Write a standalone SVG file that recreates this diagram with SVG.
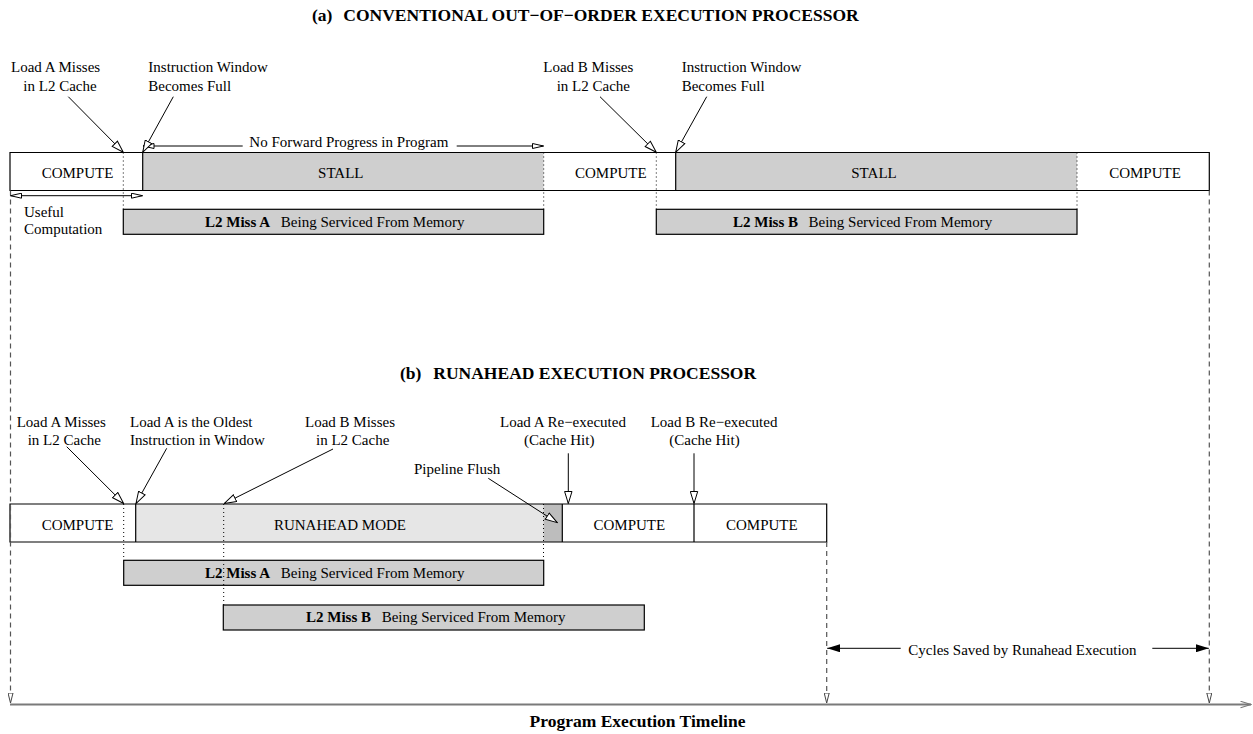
<svg xmlns="http://www.w3.org/2000/svg" width="1253" height="734" viewBox="0 0 1253 734">
<style>
.t{font-family:"Liberation Serif","Times New Roman",serif;font-size:15px;fill:#000}
.b{font-weight:bold}
.ttl{font-family:"Liberation Serif","Times New Roman",serif;font-size:17.5px;font-weight:bold;fill:#000}
.m{text-anchor:middle}
.w{fill:#fff}
.g{fill:#cfcfcf}
.lg{fill:#e6e6e6}
.dg{fill:#bdbdbd}
.border{fill:none;stroke:#000;stroke-width:1.2}
.miss{fill:#cfcfcf;stroke:#000;stroke-width:1.2}
.dot{fill:none;stroke:#000;stroke-width:1;stroke-dasharray:1 3}
.dash{fill:none;stroke:#555;stroke-width:1.2;stroke-dasharray:5 4}
.arr{fill:none;stroke:#000;stroke-width:1}
.tl{fill:none;stroke:#7a7a7a;stroke-width:2}
</style>
<defs>
<marker id="open" viewBox="0 0 13 9" refX="12.5" refY="4.5" markerWidth="13" markerHeight="9" orient="auto" markerUnits="userSpaceOnUse"><path d="M0.5,0.8 L12.5,4.5 L0.5,8.2 Z" fill="#fff" stroke="#000" stroke-width="1"/></marker>
<marker id="thin" viewBox="0 0 12 6" refX="11.5" refY="3" markerWidth="12" markerHeight="6" orient="auto-start-reverse" markerUnits="userSpaceOnUse"><path d="M0.5,0.5 L11.5,3 L0.5,5.5 Z" fill="#fff" stroke="#000" stroke-width="1"/></marker>
<marker id="fill" viewBox="0 0 13 8" refX="13" refY="4" markerWidth="13" markerHeight="8" orient="auto" markerUnits="userSpaceOnUse"><path d="M0,0 L13,4 L0,8 Z" fill="#000"/></marker>
<marker id="dv" viewBox="0 0 11 6" refX="10.5" refY="3" markerWidth="11" markerHeight="6" orient="auto" markerUnits="userSpaceOnUse"><path d="M0.5,0.5 L10.5,3 L0.5,5.5 Z" fill="#fff" stroke="#444" stroke-width="1"/></marker>
<marker id="tla" viewBox="0 0 12 8" refX="11" refY="4" markerWidth="12" markerHeight="8" orient="auto" markerUnits="userSpaceOnUse"><path d="M0.5,0.8 L11,4 L0.5,7.2" fill="none" stroke="#7a7a7a" stroke-width="1.2"/></marker>
</defs>
<rect width="1253" height="734" fill="#fff"/>

<!-- (a) -->
<g id="title-a"><text class="ttl" y="21"><tspan x="312">(a)</tspan><tspan x="343.3">CONVENTIONAL OUT−OF−ORDER EXECUTION PROCESSOR</tspan></text></g>

<g id="a-bar">
<g id="a-compute-1"><rect class="w" x="10" y="152.5" width="132.7" height="38"/><text class="t m" x="77.5" y="178.3">COMPUTE</text></g>
<g id="a-stall-1"><rect class="g" x="142.7" y="152.5" width="401" height="38"/><text class="t m" x="340.8" y="178.3">STALL</text></g>
<g id="a-compute-2"><rect class="w" x="543.7" y="152.5" width="132" height="38"/><text class="t m" x="610.8" y="178.3">COMPUTE</text></g>
<g id="a-stall-2"><rect class="g" x="675.7" y="152.5" width="401.3" height="38"/><text class="t m" x="874" y="178.3">STALL</text></g>
<g id="a-compute-3"><rect class="w" x="1077" y="152.5" width="132.3" height="38"/><text class="t m" x="1145" y="178.3">COMPUTE</text></g>
<path class="border" d="M10,152.5 H1209.3 V190.5 H10 Z M142.7,152.5 V190.5 M675.7,152.5 V190.5"/>
</g>

<g id="a-miss-a"><rect class="miss" x="123.3" y="209.3" width="420.4" height="25"/><text class="t" y="226.7"><tspan class="b" x="205">L2 Miss A</tspan><tspan x="280.8">Being Serviced From Memory</tspan></text></g>
<g id="a-miss-b"><rect class="miss" x="656.3" y="209.3" width="420.7" height="25"/><text class="t" y="226.7"><tspan class="b" x="733">L2 Miss B</tspan><tspan x="808.5">Being Serviced From Memory</tspan></text></g>

<g id="a-label-loada"><text class="t" x="11" y="72">Load A Misses</text><text class="t" x="23.3" y="90.5">in L2 Cache</text></g>
<g id="a-label-full1"><text class="t" x="148.3" y="72">Instruction Window</text><text class="t" x="148.3" y="90.5">Becomes Full</text></g>
<g id="a-label-loadb"><text class="t" x="543.3" y="72">Load B Misses</text><text class="t" x="556.7" y="90.5">in L2 Cache</text></g>
<g id="a-label-full2"><text class="t" x="681.7" y="72">Instruction Window</text><text class="t" x="681.7" y="90.5">Becomes Full</text></g>
<g id="a-label-noprogress"><text class="t" x="249.3" y="147">No Forward Progress in Program</text></g>
<g id="a-label-useful"><text class="t" x="24" y="216.5">Useful</text><text class="t" x="24" y="234">Computation</text></g>

<!-- (b) -->
<g id="title-b"><text class="ttl" y="379.3"><tspan x="400">(b)</tspan><tspan x="433.3">RUNAHEAD EXECUTION PROCESSOR</tspan></text></g>

<g id="b-bar">
<g id="b-compute-1"><rect class="w" x="10" y="504" width="125.7" height="38"/><text class="t m" x="77.5" y="529.5">COMPUTE</text></g>
<g id="b-runahead"><rect class="lg" x="135.7" y="504" width="407.8" height="38"/><text class="t m" x="340" y="529.5">RUNAHEAD MODE</text></g>
<g id="b-flush"><rect class="dg" x="543.5" y="504" width="18.8" height="38"/></g>
<g id="b-compute-2"><rect class="w" x="562.3" y="504" width="131.7" height="38"/><text class="t m" x="629.3" y="529.5">COMPUTE</text></g>
<g id="b-compute-3"><rect class="w" x="694" y="504" width="132.7" height="38"/><text class="t m" x="761.8" y="529.5">COMPUTE</text></g>
<path class="border" d="M10,504 H826.7 V542 H10 Z M135.7,504 V542 M562.3,504 V542 M694,504 V542"/>
</g>

<g id="b-miss-a"><rect class="miss" x="123.7" y="560.3" width="420" height="25"/><text class="t" y="577.7"><tspan class="b" x="205">L2 Miss A</tspan><tspan x="280.8">Being Serviced From Memory</tspan></text></g>
<g id="b-miss-b"><rect class="miss" x="223.3" y="605" width="421" height="25"/><text class="t" y="622.3"><tspan class="b" x="306">L2 Miss B</tspan><tspan x="381.7">Being Serviced From Memory</tspan></text></g>

<g id="b-label-loada"><text class="t" x="16.7" y="426.5">Load A Misses</text><text class="t" x="27.7" y="444.5">in L2 Cache</text></g>
<g id="b-label-oldest"><text class="t" x="130" y="426.5">Load A is the Oldest</text><text class="t" x="130" y="444.5">Instruction in Window</text></g>
<g id="b-label-loadb"><text class="t" x="305" y="426.5">Load B Misses</text><text class="t" x="316" y="444.5">in L2 Cache</text></g>
<g id="b-label-reexa"><text class="t" x="500" y="426.5">Load A Re−executed</text><text class="t" x="524" y="444.5">(Cache Hit)</text></g>
<g id="b-label-reexb"><text class="t" x="650.7" y="426.5">Load B Re−executed</text><text class="t" x="669.3" y="444.5">(Cache Hit)</text></g>
<g id="b-label-flush"><text class="t" x="414" y="473.5">Pipeline Flush</text></g>
<g id="b-label-cycles"><text class="t" x="908.3" y="654.5">Cycles Saved by Runahead Execution</text></g>

<g id="timeline-label"><text class="ttl m" x="637.5" y="727">Program Execution Timeline</text></g>

<g id="connectors">
<path class="dot" d="M123.3,152.5 V209.3 M543.7,152.5 V209.3 M656.3,152.5 V209.3 M1077,152.5 V209.3"/>
<path class="dot" d="M123.7,504 V560.3 M543.5,504 V560.3 M223.7,504 V605"/>
<path class="dash" d="M10.5,190.5 V703" marker-end="url(#dv)"/>
<path class="dash" d="M1209.3,190.5 V703" marker-end="url(#dv)"/>
<path class="dash" d="M826.7,542 V703" marker-end="url(#dv)"/>
<path class="tl" d="M10,704.5 H1251" marker-end="url(#tla)"/>
<path class="arr" d="M242.7,146 H143" marker-end="url(#thin)"/>
<path class="arr" d="M456.7,146 H543.5" marker-end="url(#thin)"/>
<path class="arr" d="M10.5,195.7 H142.5" marker-start="url(#thin)" marker-end="url(#thin)"/>
<path class="arr" d="M68.3,96.7 L123.3,152.3" marker-end="url(#open)"/>
<path class="arr" d="M173.3,96.7 L142.7,152.3" marker-end="url(#open)"/>
<path class="arr" d="M600,96.7 L656.3,152.3" marker-end="url(#open)"/>
<path class="arr" d="M706.7,96.7 L675.7,152.3" marker-end="url(#open)"/>
<path class="arr" d="M66.7,446.7 L123.7,503.5" marker-end="url(#open)"/>
<path class="arr" d="M166.7,448.3 L136,503.5" marker-end="url(#open)"/>
<path class="arr" d="M333,449 L224.3,503.5" marker-end="url(#open)"/>
<path class="arr" d="M488.3,478.3 L557.3,522.7" marker-end="url(#open)"/>
<path class="arr" d="M568.3,453.3 V503.5" marker-end="url(#open)"/>
<path class="arr" d="M694,453.3 V503.5" marker-end="url(#open)"/>
<path class="arr" d="M900.7,648.3 H827.2" marker-end="url(#fill)"/>
<path class="arr" d="M1152.3,648.3 H1208.8" marker-end="url(#fill)"/>
</g>
</svg>
